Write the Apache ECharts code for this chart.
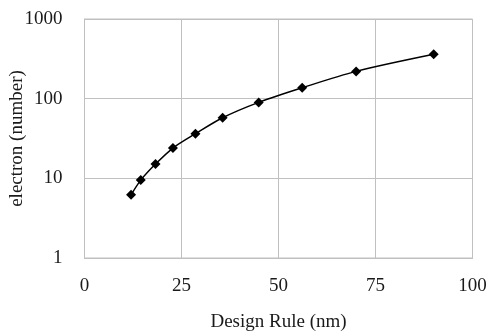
<!DOCTYPE html>
<html>
<head>
<meta charset="utf-8">
<script src="https://cdn.jsdelivr.net/npm/echarts@6/dist/echarts.min.js"></script>
<style>html,body{margin:0;padding:0;background:#fff;}#c{width:488px;height:334px;}</style>
</head>
<body>
<div id="c"></div>
<script>
var designRule = [12, 14.5, 18.3, 22.8, 28.6, 35.6, 44.9, 56.1, 70, 90];
var electrons = [6.2, 9.5, 15.1, 24.0, 36.3, 57.6, 89.8, 137, 220, 360];
var xTicks = [0, 25, 50, 75, 100];
var yTicks = [1, 10, 100, 1000];

var data = designRule.map(function (d, i) { return [d, electrons[i]]; });
var font = 'Liberation Serif';
var chart = echarts.init(document.getElementById('c'), null, {renderer: 'canvas'});
chart.setOption({
  animation: false,
  backgroundColor: '#fff',
  grid: {left: 84.5, right: 15.5, top: 19, bottom: 76, show: true, borderColor: '#c0c0c0', borderWidth: 1,
         containLabel: false, outerBoundsMode: 'none'},
  xAxis: {
    type: 'value', min: xTicks[0], max: xTicks[xTicks.length - 1], interval: 25,
    name: 'Design Rule (nm)', nameLocation: 'middle', nameGap: 55, nameMoveOverlap: false,
    nameTextStyle: {fontFamily: font, fontSize: 19, color: '#1a1a1a'},
    axisLine: {show: true, lineStyle: {color: '#c0c0c0'}},
    axisTick: {show: false},
    axisLabel: {fontFamily: font, fontSize: 19, color: '#1a1a1a', margin: 19,
                formatter: function (v) { return String(v); }},
    splitLine: {show: true, lineStyle: {color: '#c0c0c0', width: 1}}
  },
  yAxis: {
    type: 'log', logBase: 10, min: yTicks[0], max: yTicks[yTicks.length - 1],
    name: 'electron (number)', nameLocation: 'middle', nameGap: 58, nameMoveOverlap: false,
    nameTextStyle: {fontFamily: font, fontSize: 19, color: '#1a1a1a'},
    axisLine: {show: true, lineStyle: {color: '#c0c0c0'}},
    axisTick: {show: false},
    axisLabel: {fontFamily: font, fontSize: 19, color: '#1a1a1a', margin: 22,
                formatter: function (v) { return String(Math.round(v)); }},
    splitLine: {show: true, lineStyle: {color: '#c0c0c0', width: 1}},
    minorTick: {show: false}
  },
  series: [{
    type: 'line',
    data: data,
    smooth: 0.3,
    symbol: 'diamond',
    symbolSize: 10,
    itemStyle: {color: '#000'},
    lineStyle: {color: '#000', width: 1.5}
  }]
});
</script>
</body>
</html>
